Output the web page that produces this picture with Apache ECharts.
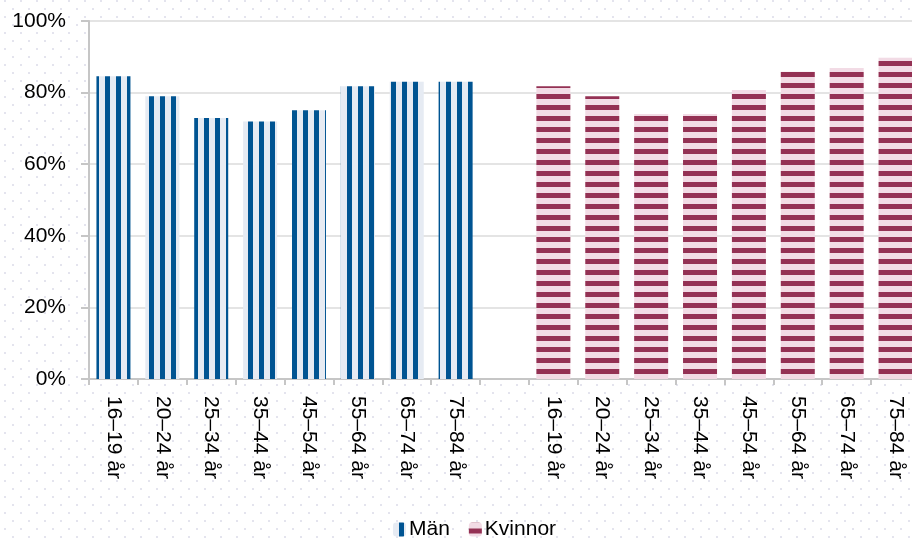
<!DOCTYPE html>
<html>
<head>
<meta charset="utf-8">
<script src="https://cdn.jsdelivr.net/npm/echarts@6/dist/echarts.min.js"></script>
<style>
html,body{margin:0;padding:0;background:#fff;}
#chart{width:912px;height:538px;}
</style>
</head>
<body>
<div id="chart"></div>
<script>
// Data
const ageGroups = ['16–19 år','20–24 år','25–34 år','35–44 år','45–54 år','55–64 år','65–74 år','75–84 år'];
const manValues = [84.6, 79.0, 72.9, 71.9, 75.1, 81.8, 83.0, 83.0];
const kvinnorValues = [81.8, 79.0, 74.0, 74.0, 80.7, 85.8, 86.9, 89.7];
const yTicks = [0, 20, 40, 60, 80, 100];
const seriesNames = ['Män', 'Kvinnor'];

const categories = ageGroups.concat([''], ageGroups);
const manData = manValues.concat(Array(ageGroups.length + 1).fill('-'));
const kvinnorData = Array(ageGroups.length + 1).fill('-').concat(kvinnorValues);

function stripe(vertical, light, dark) {
  const c = document.createElement('canvas');
  c.width = 11; c.height = 11;
  const g = c.getContext('2d');
  g.fillStyle = light; g.fillRect(0, 0, 11, 11);
  g.fillStyle = dark;
  if (vertical) g.fillRect(6, 0, 5, 11); else g.fillRect(0, 6, 11, 5);
  return c;
}
function dots() {
  const c = document.createElement('canvas');
  c.width = 16; c.height = 16;
  const g = c.getContext('2d');
  g.fillStyle = '#ffffff'; g.fillRect(0, 0, 16, 16);
  g.fillStyle = '#e4e4ee';
  g.fillRect(4, 0, 2, 2);
  g.fillRect(12, 8, 2, 2);
  return c;
}

const blueFill = { image: stripe(true, '#e6ebf3', '#005492'), repeat: 'repeat' };
const redFill = { image: stripe(false, '#f2dbe5', '#943154'), repeat: 'repeat' };
const font = '"Liberation Sans", Arial, Helvetica, sans-serif';

const chart = echarts.init(document.getElementById('chart'), null, { renderer: 'canvas' });
chart.setOption({
  animation: false,
  backgroundColor: { image: dots(), repeat: 'repeat' },
  textStyle: { fontFamily: font },
  grid: { left: 89, top: 21, width: 831, bottom: 159, show: true, backgroundColor: '#ffffff', borderWidth: 0, outerBoundsMode: 'none', containLabel: false },
  legend: {
    data: seriesNames,
    left: 393, top: 519,
    padding: 0,
    itemWidth: 13, itemHeight: 14, itemGap: 19,
    textStyle: { fontSize: 21, color: '#000', fontFamily: font, padding: [0, 0, 0, -2] }
  },
  xAxis: {
    type: 'category',
    data: categories,
    axisLine: { lineStyle: { color: '#c6c6c6', width: 2 } },
    axisTick: { show: true, length: 6, lineStyle: { color: '#c6c6c6', width: 2 } },
    axisLabel: { rotate: -90, fontSize: 21, color: '#000', margin: 17, fontFamily: font, interval: 0 },
    splitLine: { show: false }
  },
  yAxis: {
    type: 'value',
    min: yTicks[0], max: yTicks[yTicks.length - 1], interval: 20,
    axisLine: { show: true, lineStyle: { color: '#c6c6c6', width: 2 } },
    axisTick: { show: true, length: 8, lineStyle: { color: '#c6c6c6', width: 2 } },
    axisLabel: { formatter: '{value}%', fontSize: 21, color: '#000', margin: 23, fontFamily: font },
    splitLine: { show: true, lineStyle: { color: '#e4e4e4', width: 2 } }
  },
  series: [
    { name: seriesNames[0], type: 'bar', data: manData, barWidth: 34, barGap: '-100%', itemStyle: { color: blueFill } },
    { name: seriesNames[1], type: 'bar', data: kvinnorData, barWidth: 34, barGap: '-100%', itemStyle: { color: redFill } }
  ]
});
</script>
</body>
</html>
